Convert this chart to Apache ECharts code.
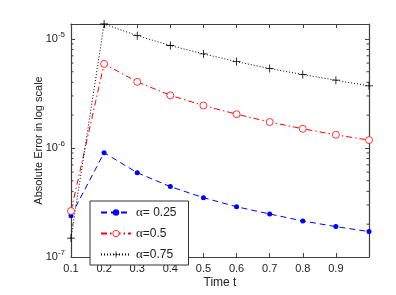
<!DOCTYPE html>
<html><head><meta charset="utf-8">
<script src="https://cdn.jsdelivr.net/npm/echarts@6/dist/echarts.min.js"></script>
<style>html,body{margin:0;padding:0;background:#fff}#c{width:396px;height:295px}</style>
</head><body><div id="c"></div>
<script>
// data
const times = [0.1, 0.2, 0.3, 0.4, 0.5, 0.6, 0.7, 0.8, 0.9, 1.0];
const err025 = [2.39e-7, 9.05e-7, 5.93e-7, 4.42e-7, 3.50e-7, 2.89e-7, 2.48e-7, 2.14e-7, 1.90e-7, 1.71e-7];
const err050 = [2.64e-7, 5.90e-6, 4.04e-6, 3.04e-6, 2.45e-6, 2.04e-6, 1.73e-6, 1.50e-6, 1.32e-6, 1.18e-6];
const err075 = [1.49e-7, 1.37e-5, 1.07e-5, 8.70e-6, 7.28e-6, 6.19e-6, 5.35e-6, 4.71e-6, 4.18e-6, 3.71e-6];
const seriesNames = ['α= 0.25', 'α=0.5', 'α=0.75'];
const xTickLabels = ['0.1','0.2','0.3','0.4','0.5','0.6','0.7','0.8','0.9',''];
const yDecades = [-7, -6, -5];
const yMaxValue = 1.37e-5;

const L = Math.log10;
const yMin = -7, yMax = L(yMaxValue);
const toPts = arr => times.map((t, i) => [t, L(arr[i])]);

// minor log ticks
const minorVals = [];
yDecades.forEach(n => { for (let k = 2; k <= 9; k++) { const v = L(k) + n; if (v < yMax) minorVals.push([v]); } });

const frame = '#404040';
const chart = echarts.init(document.getElementById('c'));
const plus = 'path://M4.5,0h1v4.5h4.5v1h-4.5v4.5h-1v-4.5h-4.5v-1h4.5z';

chart.setOption({
  animation: false,
  backgroundColor: '#fff',
  grid: { left: 71, right: 27, top: 24, bottom: 38 },
  xAxis: [{
    type: 'value', min: 0.1, max: 1.0, interval: 0.1,
    name: 'Time t', nameLocation: 'middle', nameGap: 20, nameMoveOverlap: false,
    nameTextStyle: { fontFamily: 'Liberation Sans', fontSize: 12, color: '#222' },
    axisLine: { lineStyle: { color: frame, width: 1.2 } },
    axisTick: { inside: true, length: 4, lineStyle: { color: frame } },
    axisLabel: { fontFamily: 'Liberation Sans', fontSize: 11, color: '#222', margin: 6,
      formatter: v => { const i = Math.round((v - 0.1) / 0.1); return xTickLabels[i] || ''; } },
    splitLine: { show: false }
  }, {
    type: 'value', min: 0.1, max: 1.0, interval: 0.1, position: 'top',
    axisLine: { lineStyle: { color: frame, width: 1.2 } },
    axisTick: { inside: true, length: 4, lineStyle: { color: frame } },
    axisLabel: { show: false }, splitLine: { show: false }
  }],
  yAxis: [{
    type: 'value', min: yMin, max: yMax, interval: 1,
    name: 'Absolute Error in log scale', nameLocation: 'middle', nameGap: 27, nameMoveOverlap: false,
    nameTextStyle: { fontFamily: 'Liberation Sans', fontSize: 11, color: '#222' },
    axisLine: { show: true, lineStyle: { color: frame, width: 1.2 } },
    axisTick: { show: true, inside: true, length: 4, lineStyle: { color: frame } },
    axisLabel: { margin: 6, showMaxLabel: false,
      formatter: v => Math.abs(v - Math.round(v)) > 1e-6 ? '' : '{b|10}{s|' + Math.round(v) + '}',
      rich: { b: { fontFamily: 'Liberation Sans', fontSize: 11, color: '#222' },
              s: { fontFamily: 'Liberation Sans', fontSize: 8, color: '#222', padding: [0, 0, 8, 0] } } },
    splitLine: { show: false }
  }, {
    type: 'value', min: yMin, max: yMax, interval: 1, position: 'right',
    axisLine: { show: true, lineStyle: { color: frame, width: 1.2 } },
    axisTick: { show: true, inside: true, length: 4, lineStyle: { color: frame } },
    axisLabel: { show: false }, splitLine: { show: false }
  }],
  legend: {
    left: 90, top: 201, orient: 'vertical',
    padding: [5, 12, 4, 10], itemGap: 8, itemWidth: 30, itemHeight: 8,
    backgroundColor: '#fff', borderColor: '#333', borderWidth: 1,
    itemStyle: { borderWidth: 0.8 },
    data: seriesNames,
    formatter: n => '{a|α}' + n.slice(1),
    textStyle: { fontFamily: 'Liberation Sans', fontSize: 12, color: '#222',
      rich: { a: { fontFamily: 'Liberation Serif', fontSize: 13, color: '#222' } } }
  },
  series: [{
    type: 'custom', name: 'minor', silent: true, z: 1,
    data: minorVals,
    encode: { y: 0 },
    renderItem: (params, api) => {
      const p0 = api.coord([0.1, api.value(0)]);
      const p1 = api.coord([1.0, api.value(0)]);
      const st = { stroke: frame, lineWidth: 1 };
      return { type: 'group', children: [
        { type: 'line', shape: { x1: p0[0], y1: p0[1], x2: p0[0] + 2.5, y2: p0[1] }, style: st },
        { type: 'line', shape: { x1: p1[0] - 2.5, y1: p1[1], x2: p1[0], y2: p1[1] }, style: st }
      ] };
    }
  }, {
    type: 'line', name: seriesNames[0], data: toPts(err025),
    symbol: 'circle', symbolSize: 5, showAllSymbol: true,
    lineStyle: { color: '#0000ff', width: 1, type: [6, 4] },
    itemStyle: { color: '#0000ff', borderWidth: 0 }
  }, {
    type: 'line', name: seriesNames[1], data: toPts(err050),
    symbol: 'circle', symbolSize: 7, showAllSymbol: true,
    lineStyle: { color: '#ff0000', width: 1, type: [6, 3, 1.5, 3] },
    itemStyle: { color: '#ffffff', borderColor: '#ff0000', borderWidth: 0.8 }
  }, {
    type: 'line', name: seriesNames[2], data: toPts(err075),
    symbol: plus, symbolSize: 8, showAllSymbol: true,
    lineStyle: { color: '#000', width: 1, type: [1, 2] },
    itemStyle: { color: '#000', borderWidth: 0 }
  }]
});
</script></body></html>
